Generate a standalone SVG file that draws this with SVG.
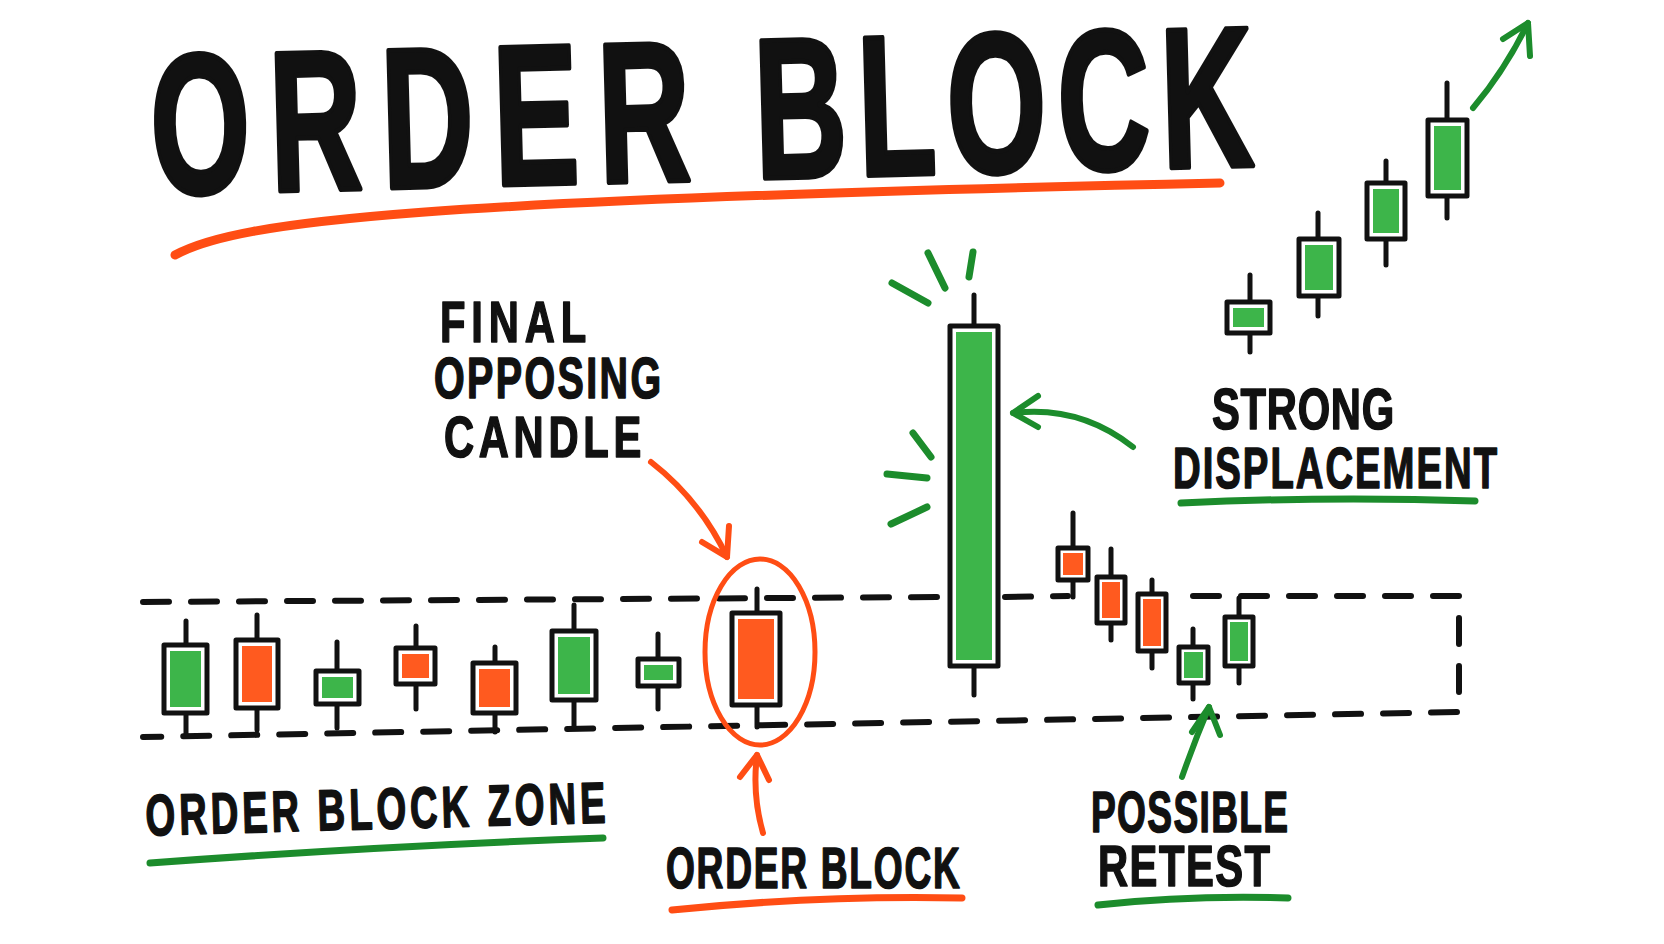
<svg xmlns="http://www.w3.org/2000/svg" width="1664" height="944" viewBox="0 0 1664 944">
<style>
.bg{fill:#ffffff}
.wick{stroke:#111;stroke-width:5;stroke-linecap:round}
.body{fill:#fff;stroke:#111;stroke-width:5;stroke-linejoin:round}
.g{fill:#3db54a}
.r{fill:#ff5a1f}
.dash{fill:none;stroke:#111;stroke-width:6;stroke-linecap:round;stroke-linejoin:round;stroke-dasharray:26 22}
.lbl{font-family:"Liberation Sans",Arial,sans-serif;font-weight:bold;font-size:58px;fill:#111;stroke:#111;stroke-width:1.6;stroke-linejoin:round;stroke-linecap:round}
.title{font-family:"Liberation Sans",Arial,sans-serif;font-weight:bold;font-size:200px;fill:#111;stroke:#111;stroke-width:5;stroke-linejoin:round;stroke-linecap:round}
.ul-o{fill:none;stroke:#ff4d14;stroke-width:7;stroke-linecap:round}
.ul-g{fill:none;stroke:#1c8c2c;stroke-width:7;stroke-linecap:round}
.arr-o{fill:none;stroke:#ff4d14;stroke-width:6;stroke-linecap:round;stroke-linejoin:round}
.arr-g{fill:none;stroke:#1c8c2c;stroke-width:6;stroke-linecap:round;stroke-linejoin:round}
.burst{fill:none;stroke:#1c8c2c;stroke-width:7;stroke-linecap:round}
</style>
<rect class="bg" x="0" y="0" width="1664" height="944"/>

<g id="title">
<g transform="rotate(-1.5 700 180)">
<text class="title" transform="translate(152 180) scale(0.64 1)" textLength="844" lengthAdjust="spacing">ORDER</text>
<text class="title" transform="translate(756 180) scale(0.64 1)" textLength="780" lengthAdjust="spacing">BLOCK</text>
</g>
<path class="ul-o" style="stroke-width:9" d="M175,255 C240,220 420,200 1220,183"/>
</g>

<g id="zone">
<path class="dash" d="M143,602 L940,597"/>
<path class="dash" d="M1005,597 L1068,596"/>
<path class="dash" d="M1193,596 L1459,596 L1459,712 L143,737"/>
</g>

<g id="candle-1"><line class="wick" x1="186" y1="621" x2="186" y2="734"/><rect class="body" x="164" y="645" width="43" height="68"/><rect class="g" x="170" y="651" width="31" height="56"/></g>
<g id="candle-2"><line class="wick" x1="257" y1="615" x2="257" y2="730"/><rect class="body" x="236" y="640" width="42" height="68"/><rect class="r" x="242" y="646" width="30" height="56"/></g>
<g id="candle-3"><line class="wick" x1="337" y1="642" x2="337" y2="728"/><rect class="body" x="316" y="671" width="43" height="33"/><rect class="g" x="322" y="677" width="31" height="21"/></g>
<g id="candle-4"><line class="wick" x1="416" y1="626" x2="416" y2="709"/><rect class="body" x="396" y="648" width="39" height="36"/><rect class="r" x="402" y="654" width="27" height="24"/></g>
<g id="candle-5"><line class="wick" x1="495" y1="647" x2="495" y2="732"/><rect class="body" x="473" y="663" width="43" height="50"/><rect class="r" x="479" y="669" width="31" height="38"/></g>
<g id="candle-6"><line class="wick" x1="574" y1="605" x2="574" y2="727"/><rect class="body" x="552" y="631" width="44" height="69"/><rect class="g" x="558" y="637" width="32" height="57"/></g>
<g id="candle-7"><line class="wick" x1="658" y1="634" x2="658" y2="709"/><rect class="body" x="638" y="659" width="41" height="27"/><rect class="g" x="644" y="665" width="29" height="15"/></g>
<g id="order-block-candle"><line class="wick" x1="757" y1="589" x2="757" y2="727"/><rect class="body" x="732" y="613" width="48" height="92"/><rect class="r" x="738" y="619" width="36" height="80"/>
<ellipse cx="760" cy="652" rx="55" ry="93" fill="none" stroke="#ff4d14" stroke-width="5"/></g>

<g id="displacement-candle"><line class="wick" x1="974" y1="295" x2="974" y2="695"/><rect class="body" x="950" y="326" width="48" height="340"/><rect class="g" x="956" y="332" width="36" height="328"/>
<line class="burst" x1="892" y1="283" x2="928" y2="303"/>
<line class="burst" x1="928" y1="253" x2="945" y2="288"/>
<line class="burst" x1="973" y1="252" x2="969" y2="277"/>
<line class="burst" x1="913" y1="433" x2="931" y2="457"/>
<line class="burst" x1="887" y1="474" x2="927" y2="478"/>
<line class="burst" x1="891" y1="524" x2="927" y2="507"/>
</g>

<g id="retrace-1"><line class="wick" x1="1073" y1="513" x2="1073" y2="597"/><rect class="body" x="1058" y="548" width="30" height="32"/><rect class="r" x="1063" y="553" width="20" height="22"/></g>
<g id="retrace-2"><line class="wick" x1="1111" y1="549" x2="1111" y2="640"/><rect class="body" x="1097" y="577" width="28" height="46"/><rect class="r" x="1102" y="582" width="18" height="36"/></g>
<g id="retrace-3"><line class="wick" x1="1152" y1="580" x2="1152" y2="668"/><rect class="body" x="1138" y="594" width="28" height="57"/><rect class="r" x="1143" y="599" width="18" height="47"/></g>
<g id="retest-1"><line class="wick" x1="1193" y1="629" x2="1193" y2="699"/><rect class="body" x="1179" y="647" width="29" height="36"/><rect class="g" x="1184" y="652" width="19" height="26"/></g>
<g id="retest-2"><line class="wick" x1="1239" y1="598" x2="1239" y2="683"/><rect class="body" x="1225" y="617" width="28" height="49"/><rect class="g" x="1230" y="622" width="18" height="39"/></g>

<g id="up-1"><line class="wick" x1="1250" y1="275" x2="1250" y2="352"/><rect class="body" x="1227" y="302" width="43" height="31"/><rect class="g" x="1233" y="308" width="31" height="19"/></g>
<g id="up-2"><line class="wick" x1="1318" y1="213" x2="1318" y2="316"/><rect class="body" x="1299" y="239" width="40" height="57"/><rect class="g" x="1305" y="245" width="28" height="45"/></g>
<g id="up-3"><line class="wick" x1="1386" y1="161" x2="1386" y2="265"/><rect class="body" x="1367" y="183" width="38" height="56"/><rect class="g" x="1373" y="189" width="26" height="44"/></g>
<g id="up-4"><line class="wick" x1="1447" y1="83" x2="1447" y2="218"/><rect class="body" x="1428" y="120" width="39" height="76"/><rect class="g" x="1434" y="126" width="27" height="64"/></g>

<g id="connectors">
<path class="arr-o" d="M651,462 Q700,500 727,557"/>
<path class="arr-o" d="M702,542 L727,557 L729,526"/>
<path class="arr-o" d="M763,833 Q752,795 757,755"/>
<path class="arr-o" d="M740,777 L757,755 L769,780"/>
<path class="arr-g" d="M1133,447 Q1080,405 1013,413"/>
<path class="arr-g" d="M1038,396 L1013,413 L1038,427"/>
<path class="arr-g" d="M1182,777 Q1195,740 1209,707"/>
<path class="arr-g" d="M1192,732 L1209,707 L1220,735"/>
<path class="arr-g" d="M1473,108 Q1505,70 1528,23"/>
<path class="arr-g" d="M1503,39 L1528,23 L1530,56"/>
</g>

<g id="label-final">
<text class="lbl" transform="translate(440 342) scale(0.72 1)" textLength="203" lengthAdjust="spacing">FINAL</text>
<text class="lbl" transform="translate(434 398) scale(0.68 1)" textLength="334" lengthAdjust="spacing">OPPOSING</text>
<text class="lbl" transform="translate(444 457) scale(0.72 1)" textLength="274" lengthAdjust="spacing">CANDLE</text>
</g>
<g id="label-strong">
<text class="lbl" transform="translate(1212 429) scale(0.72 1)" textLength="253" lengthAdjust="spacing">STRONG</text>
<text class="lbl" transform="translate(1173 488) scale(0.66 1)" textLength="491" lengthAdjust="spacing">DISPLACEMENT</text>
<path class="ul-g" d="M1181,503 Q1330,496 1475,501"/>
</g>
<g id="label-zone">
<text class="lbl" transform="rotate(-1.6 375 829) translate(146 829) scale(0.66 1)" textLength="697" lengthAdjust="spacing">ORDER BLOCK ZONE</text>
<path class="ul-g" d="M150,863 Q380,846 603,838"/>
</g>
<g id="label-ob">
<text class="lbl" transform="translate(666 888) scale(0.64 1)" textLength="459" lengthAdjust="spacing">ORDER BLOCK</text>
<path class="ul-o" d="M672,910 Q820,895 962,898"/>
</g>
<g id="label-retest">
<text class="lbl" transform="translate(1091 832) scale(0.64 1)" textLength="308" lengthAdjust="spacing">POSSIBLE</text>
<text class="lbl" transform="translate(1098 886) scale(0.72 1)" textLength="239" lengthAdjust="spacing">RETEST</text>
<path class="ul-g" d="M1098,905 Q1190,895 1288,898"/>
</g>
</svg>
